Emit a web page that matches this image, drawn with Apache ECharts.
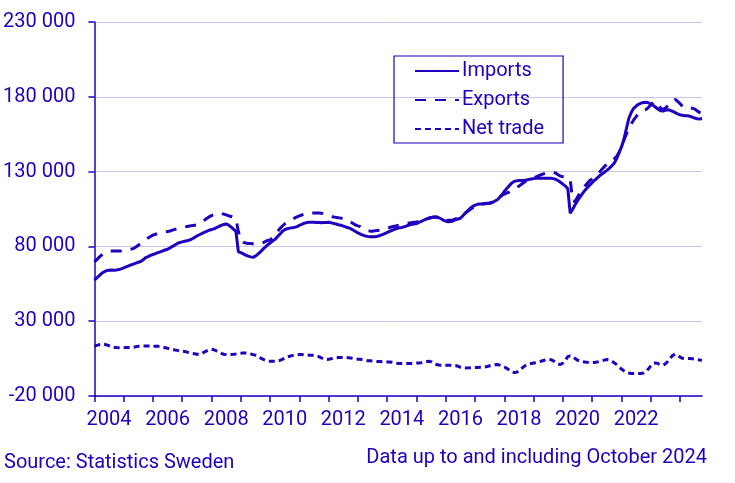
<!DOCTYPE html>
<html><head><meta charset="utf-8">
<script src="https://cdn.jsdelivr.net/npm/echarts@6/dist/echarts.min.js"></script>
<style>html,body{margin:0;padding:0;background:#fff}#c{width:735px;height:483px}</style>
</head><body><div id="c"></div>
<script>
// ---- data (monthly, Jan 2004 - Oct 2024), SEK million ----
const startYear = 2004;
const monthCount = 250;
const labelYears = [2004, 2006, 2008, 2010, 2012, 2014, 2016, 2018, 2020, 2022];
const yMin = -20000, yMax = 230000, yStep = 50000;

const imports = [
  57500,59000,60500,62000,63000,63800,64100,64200,64100,64200,64500,65000,
  65600,66300,67000,67600,68200,68800,69400,69900,71000,72500,73200,74000,
  74600,75200,75800,76400,77000,77600,78100,79000,80000,81000,82000,82600,
  83000,83400,83800,84200,85000,86000,87000,87800,88600,89400,90000,90800,
  91300,91700,92500,93300,94000,94700,95000,94200,93000,91500,90000,76400,
  75800,75000,74200,73500,73000,72700,73500,74800,76300,78000,79500,81000,
  82300,83500,84700,86500,88200,90000,91200,91800,92200,92500,92700,93200,
  94000,94800,95500,95900,96100,96200,96100,96000,95900,95800,95900,96000,
  96100,95800,95400,95000,94500,94200,93600,93000,92500,91900,91000,90000,
  89000,88200,87500,87000,86700,86500,86400,86500,86800,87300,87900,88600,
  89300,90000,90700,91400,92000,92400,92700,93100,93700,94300,94800,95000,
  95300,96000,96800,97500,98200,98800,99300,99600,99700,99300,98500,97600,
  96800,96500,96600,97000,97800,98300,98800,100500,102300,104000,105500,106800,
  107600,108100,108300,108400,108500,108600,108800,109300,110200,111000,112600,114500,
  116800,118700,120600,122300,123400,123800,124000,124100,124200,124400,124700,125000,
  125300,125500,125600,125600,125600,125500,125500,125500,125300,124900,124000,122900,
  121600,120300,118500,102100,104800,107800,110500,113000,115300,117400,119300,121000,
  122600,124200,125700,127200,128400,129600,130800,132200,133800,135600,138500,142500,
  146500,151500,158500,165500,169500,172300,173800,175000,175800,176200,176300,176000,
  175200,174300,173000,171700,170700,170500,170900,171300,171000,170300,169400,168600,
  168000,167600,167400,167300,167000,166400,165800,165300,165200,165500
];

const exportsSeries = [
  69700,71200,72800,74300,75500,76300,76800,76900,76900,76900,76900,77000,
  77200,77500,77800,78200,78600,79600,80800,82000,83300,84500,85600,86600,
  87500,88100,88600,89000,89400,89700,89900,90300,90900,91400,91800,92200,
  92600,93000,93300,93600,93900,94100,94400,95200,96300,97500,98600,99700,
  100600,101300,102000,102200,102000,101600,101100,100500,100000,99400,98500,90000,
  84000,82800,82200,82000,81900,81700,81600,81600,81800,82400,83200,84000,
  84300,85800,87700,89800,91800,93600,95000,96200,97200,98100,98900,99700,
  100400,101000,101600,102000,102200,102300,102300,102300,102300,102200,101800,101200,
  100600,100100,99700,99400,99100,98900,98600,98200,97300,96300,95300,94300,
  93700,93200,92300,91300,90500,90200,90200,90400,90700,90900,91300,91700,
  92100,92600,93100,93500,93900,94300,94600,94900,95300,95600,95900,96200,
  96400,96700,97200,97700,98300,98800,99200,99500,99600,99300,98700,98100,
  97600,97400,97500,97700,98400,99100,99800,100800,102200,103500,104700,105800,
  106500,107200,107800,108300,108700,108900,109000,109500,110400,111500,112800,114200,
  115000,115700,116300,117100,118200,119300,120300,121500,122700,123800,124600,125300,
  125800,126500,127200,127900,128500,129000,129400,129700,129600,129000,127900,127000,
  126600,126400,125800,124600,110500,110000,113000,115800,118200,120300,122200,124000,
  125000,126500,128000,129800,131600,133300,135000,136600,137800,138600,140000,143000,
  146500,151200,155000,158800,161800,164500,166800,168700,170000,171000,171500,172800,
  174500,176300,176800,175200,172500,171500,172500,174000,175300,177500,178300,177000,
  175500,173500,172500,172300,172400,172400,171800,170600,169600,169000
];

const netTrade = [
  13300,13800,14300,14600,14600,14200,13600,13000,12600,12400,12300,12300,
  12300,12400,12400,12400,12600,12900,13200,13400,13500,13500,13400,13400,
  13300,13300,13200,13000,12700,12300,11900,11600,11200,10800,10500,10200,
  10000,9700,9300,8900,8500,8200,7900,7900,8500,9300,10200,10900,
  11300,10900,10100,9300,8500,7900,7700,7700,7800,7900,8100,8400,
  8600,8800,8800,8600,8200,7700,7200,6400,5500,4600,3900,3400,
  3200,3200,3300,3400,3800,4500,5300,6100,6600,7000,7300,7500,
  7700,7700,7600,7400,7300,7200,7200,6900,6300,5500,4800,4400,
  4500,4900,5300,5600,5700,5700,5700,5700,5600,5400,5100,4800,
  4600,4500,4200,3900,3600,3500,3400,3300,3100,3000,2900,2800,
  2800,2700,2500,2200,1900,1700,1700,1700,1700,1700,1800,1900,
  2000,2100,2300,2600,2900,3200,2900,2000,1200,700,550,500,
  500,500,550,550,400,-100,-800,-1250,-1300,-1200,-1100,-1000,
  -1000,-900,-800,-700,-600,-300,200,600,900,1000,700,0,
  -600,-1500,-2700,-3800,-4300,-4200,-3100,-1700,-300,700,1300,1700,
  2000,2300,2700,3200,3700,4100,4400,4300,3600,2500,1400,1000,
  2000,3800,6300,6800,6200,5100,3900,3300,3000,2700,2500,2400,
  2300,2400,2700,3100,3500,4000,4400,4200,3400,2300,1000,-500,
  -2000,-3200,-4100,-4600,-4900,-5000,-5000,-5000,-4900,-4700,-3800,-2000,
  100,1800,2100,1600,800,600,1500,3200,5200,7200,7900,7200,
  6000,5200,5000,5000,5000,4900,4700,4400,4100,3800
];

const seriesNames = ['Imports', 'Exports', 'Net trade'];
const sourceText = 'Source: Statistics Sweden';
const noteText = 'Data up to and including October 2024';

// ---- categories ----
const months = [];
for (let i = 0; i < monthCount; i++) {
  const y = startYear + Math.floor(i / 12);
  const m = (i % 12) + 1;
  months.push(y + '-' + (m < 10 ? '0' + m : '' + m));
}

const C = '#1e00be';
const FONT = 'Roboto';
const FS = 20;

const chart = echarts.init(document.getElementById('c'), null, {renderer: 'canvas'});
chart.setOption({
  animation: false,
  backgroundColor: '#ffffff',
  textStyle: {fontFamily: FONT, color: C},
  grid: {left: 93, right: 33, top: 22, bottom: 87, containLabel: false},
  title: [
    {text: sourceText, left: -1, top: 448, textStyle: {fontFamily: FONT, fontSize: FS, fontWeight: 'normal', color: C}},
    {text: noteText, right: 23, top: 443, textStyle: {fontFamily: FONT, fontSize: FS, fontWeight: 'normal', color: C}}
  ],
  legend: {
    orient: 'vertical',
    left: 394, top: 56,
    padding: [5, 19, 4, 20],
    borderColor: C, borderWidth: 1.2,
    itemWidth: 44, itemHeight: 14, itemGap: 9,
    itemStyle: {color: 'rgba(0,0,0,0)', borderColor: 'rgba(0,0,0,0)', borderWidth: 0, opacity: 0},
    textStyle: {fontFamily: FONT, fontSize: FS, color: C, padding: [0, 0, 0, -2]},
    data: seriesNames
  },
  xAxis: {
    type: 'category',
    data: months,
    boundaryGap: false,
    axisLine: {onZero: false, lineStyle: {color: C, width: 1.5}},
    axisTick: {length: 6, lineStyle: {color: C, width: 1.5}, interval: (i) => i % 12 === 0},
    axisLabel: {
      interval: (i, v) => v.slice(5) === '07' && labelYears.indexOf(+v.slice(0, 4)) >= 0,
      formatter: (v) => v.slice(0, 4),
      fontFamily: FONT, fontSize: FS, color: C, margin: 14
    },
    splitLine: {show: false}
  },
  yAxis: {
    type: 'value',
    min: yMin, max: yMax, interval: yStep,
    axisLine: {show: true, lineStyle: {color: C, width: 1.5}},
    axisTick: {show: true, length: 6, lineStyle: {color: C, width: 1.5}},
    axisLabel: {
      fontFamily: FONT, fontSize: FS, color: C, margin: 19,
      formatter: (v) => String(v).replace(/\B(?=(\d{3})+(?!\d))/g, ' ')
    },
    splitLine: {show: true, lineStyle: {color: '#c9c5ef', width: 1}}
  },
  series: [
    {name: seriesNames[0], type: 'line', data: imports, symbol: 'none', showSymbol: false,
      lineStyle: {color: C, width: 3, type: 'solid'}, itemStyle: {color: C}, z: 3},
    {name: seriesNames[1], type: 'line', data: exportsSeries, symbol: 'none', showSymbol: false,
      lineStyle: {color: C, width: 3, type: [11, 9]}, itemStyle: {color: C}, z: 2},
    {name: seriesNames[2], type: 'line', data: netTrade, symbol: 'none', showSymbol: false,
      lineStyle: {color: C, width: 3, type: [6, 4]}, itemStyle: {color: C}, z: 2}
  ]
});
</script>
</body></html>
